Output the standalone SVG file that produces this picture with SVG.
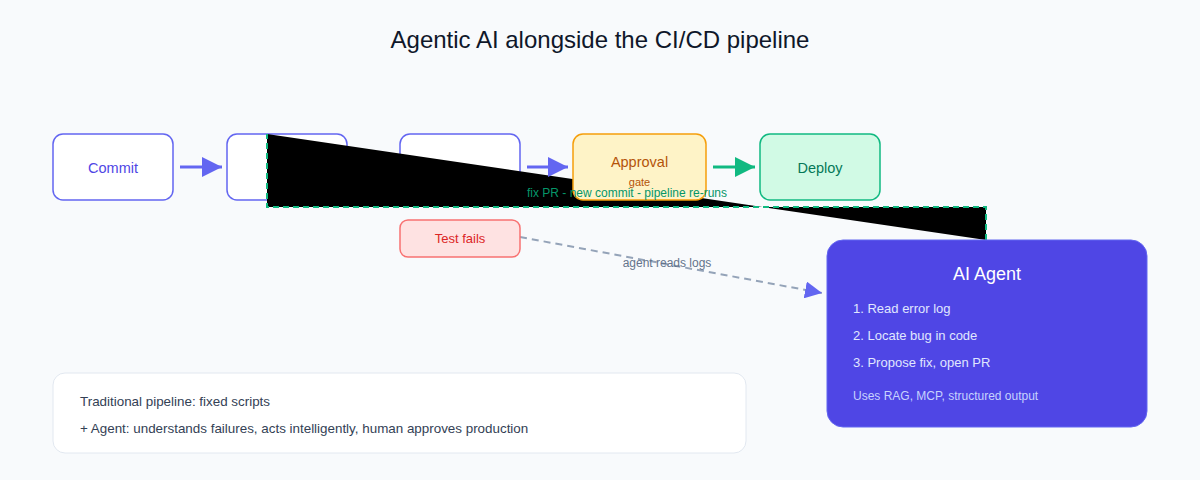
<svg xmlns="http://www.w3.org/2000/svg" width="1200" height="480" viewBox="0 0 1200 480">
<style>
text{font-family:"Liberation Sans",Arial,sans-serif}
.box{fill:#ffffff;stroke:#6366f1;stroke-width:1.5}
.lbl{font-size:14.5px;text-anchor:middle}
.arrow{stroke:#6366f1;stroke-width:3;fill:none}
.agentline{font-size:13px;fill:#e0e7ff}
.note{font-size:13.4px;fill:#334155}
</style>
<defs>
<marker id="ah" viewBox="0 0 10 10" refX="10" refY="5" markerUnits="userSpaceOnUse" markerWidth="20" markerHeight="20" orient="auto"><path d="M0,0 L10,5 L0,10 z" fill="#6366f1"/></marker>
<marker id="ahg" viewBox="0 0 10 10" refX="10" refY="5" markerUnits="userSpaceOnUse" markerWidth="20" markerHeight="20" orient="auto"><path d="M0,0 L10,5 L0,10 z" fill="#10b981"/></marker>
<marker id="ahs" viewBox="0 0 10 10" refX="10" refY="5" markerUnits="userSpaceOnUse" markerWidth="17" markerHeight="17" orient="auto"><path d="M0,0 L10,5 L0,10 z" fill="#6366f1"/></marker>
</defs>
<rect x="0" y="0" width="1200" height="480" fill="#f8fafc"/>
<text x="600" y="48" font-size="24" fill="#0f172a" text-anchor="middle">Agentic AI alongside the CI/CD pipeline</text>

<g id="commit"><rect class="box" x="53" y="134" width="120" height="66" rx="10"/><text class="lbl" x="113" y="173" fill="#4f46e5">Commit</text></g>
<g id="build"><rect class="box" x="227" y="134" width="120" height="66" rx="10"/></g>
<g id="test"><rect class="box" x="400" y="134" width="120" height="66" rx="10"/></g>

<g id="connectors">
<line class="arrow" x1="353" y1="167" x2="395" y2="167" marker-end="url(#ah)"/>
<path d="M986,240 L986,207 L267,207 L267,134" stroke="#10b981" stroke-width="2" stroke-dasharray="6 4"/>
<line class="arrow" x1="180" y1="167" x2="222" y2="167" marker-end="url(#ah)"/>
<line class="arrow" x1="527" y1="167" x2="568" y2="167" marker-end="url(#ah)"/>
<line x1="713" y1="167" x2="755" y2="167" stroke="#10b981" stroke-width="3" marker-end="url(#ahg)"/>
<line x1="520" y1="237" x2="822" y2="293" stroke="#94a3b8" stroke-width="2" stroke-dasharray="7 5" marker-end="url(#ahs)"/>
</g>

<g id="approval"><rect x="573" y="134" width="133" height="66" rx="10" fill="#fef3c7" stroke="#f59e0b" stroke-width="1.5"/><text class="lbl" x="639.5" y="167" fill="#b45309">Approval</text><text x="639.5" y="186" font-size="11" fill="#b45309" text-anchor="middle">gate</text></g>
<g id="deploy"><rect x="760" y="134" width="120" height="66" rx="10" fill="#d1fae5" stroke="#10b981" stroke-width="1.5"/><text class="lbl" x="820" y="173" fill="#047857">Deploy</text></g>
<g id="testfails"><rect x="400" y="220" width="120" height="37" rx="8" fill="#fee2e2" stroke="#f87171" stroke-width="1.5"/><text x="460" y="243" font-size="13" fill="#dc2626" text-anchor="middle">Test fails</text></g>

<text x="627" y="197" font-size="12" fill="#059669" text-anchor="middle">fix PR - new commit - pipeline re-runs</text>
<text x="667" y="267" font-size="12" fill="#64748b" text-anchor="middle">agent reads logs</text>

<g id="agent"><rect x="827" y="240" width="320" height="187" rx="16" fill="#4f46e5" stroke="#6366f1" stroke-width="1"/>
<text x="987" y="280" font-size="18" fill="#ffffff" text-anchor="middle">AI Agent</text>
<text class="agentline" x="853" y="313">1. Read error log</text>
<text class="agentline" x="853" y="340">2. Locate bug in code</text>
<text class="agentline" x="853" y="367">3. Propose fix, open PR</text>
<text x="853" y="400" font-size="12" fill="#c7d2fe">Uses RAG, MCP, structured output</text></g>

<g id="note"><rect x="53" y="373" width="693" height="80" rx="12" fill="#ffffff" stroke="#e2e8f0" stroke-width="1"/>
<text class="note" x="80" y="406">Traditional pipeline: fixed scripts</text>
<text class="note" x="80" y="433">+ Agent: understands failures, acts intelligently, human approves production</text></g>
</svg>
